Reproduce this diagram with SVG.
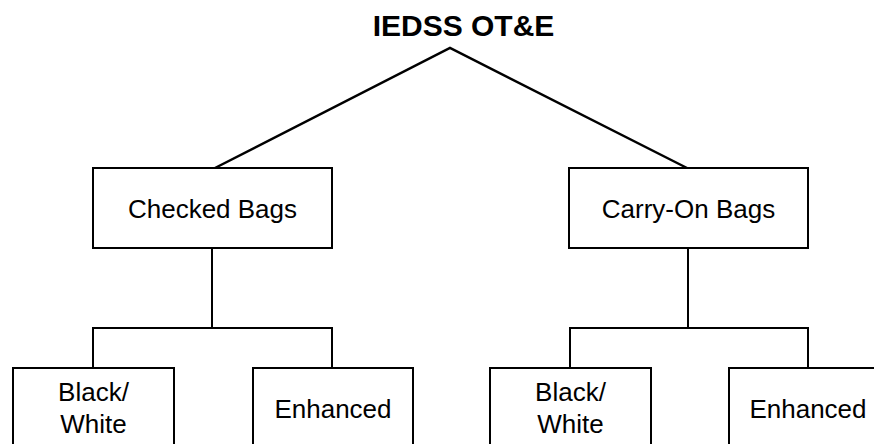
<svg xmlns="http://www.w3.org/2000/svg" width="874" height="444" viewBox="0 0 874 444">
<style>
.box{fill:#fff;stroke:#000;stroke-width:2}
.lbl{font-family:"Liberation Sans",Arial,sans-serif;font-size:26px;fill:#000;text-anchor:middle}
.title{font-family:"Liberation Sans",Arial,sans-serif;font-size:30px;font-weight:bold;fill:#000;text-anchor:middle}
.con{fill:none;stroke:#000;stroke-width:2}
.diag{fill:none;stroke:#000;stroke-width:2.5;stroke-linejoin:miter}
</style>
<rect width="874" height="444" fill="#fff"/>
<g id="root"><text class="title" x="463.5" y="36">IEDSS OT&amp;E</text></g>
<g id="connectors">
<polyline class="diag" points="215,168 450,48 687,168"/>
<line class="con" x1="212" y1="248" x2="212" y2="328"/>
<polyline class="con" points="93,368 93,328 332,328 332,368"/>
<line class="con" x1="688" y1="248" x2="688" y2="328"/>
<polyline class="con" points="570,368 570,328 808,328 808,368"/>
</g>
<g id="checked"><rect class="box" x="93" y="168" width="239" height="80"/><text class="lbl" x="212.5" y="218">Checked Bags</text></g>
<g id="carryon"><rect class="box" x="569" y="168" width="239" height="80"/><text class="lbl" x="688.5" y="218">Carry-On Bags</text></g>
<g id="checked-bw"><rect class="box" x="13" y="368" width="161" height="100"/><text class="lbl" x="93.5" y="401">Black/</text><text class="lbl" x="93.5" y="433">White</text></g>
<g id="checked-enh"><rect class="box" x="253" y="368" width="160" height="100"/><text class="lbl" x="333" y="418">Enhanced</text></g>
<g id="carry-bw"><rect class="box" x="490" y="368" width="161" height="100"/><text class="lbl" x="570.5" y="401">Black/</text><text class="lbl" x="570.5" y="433">White</text></g>
<g id="carry-enh"><rect class="box" x="729" y="368" width="160" height="100"/><text class="lbl" x="808" y="418">Enhanced</text></g>
</svg>
